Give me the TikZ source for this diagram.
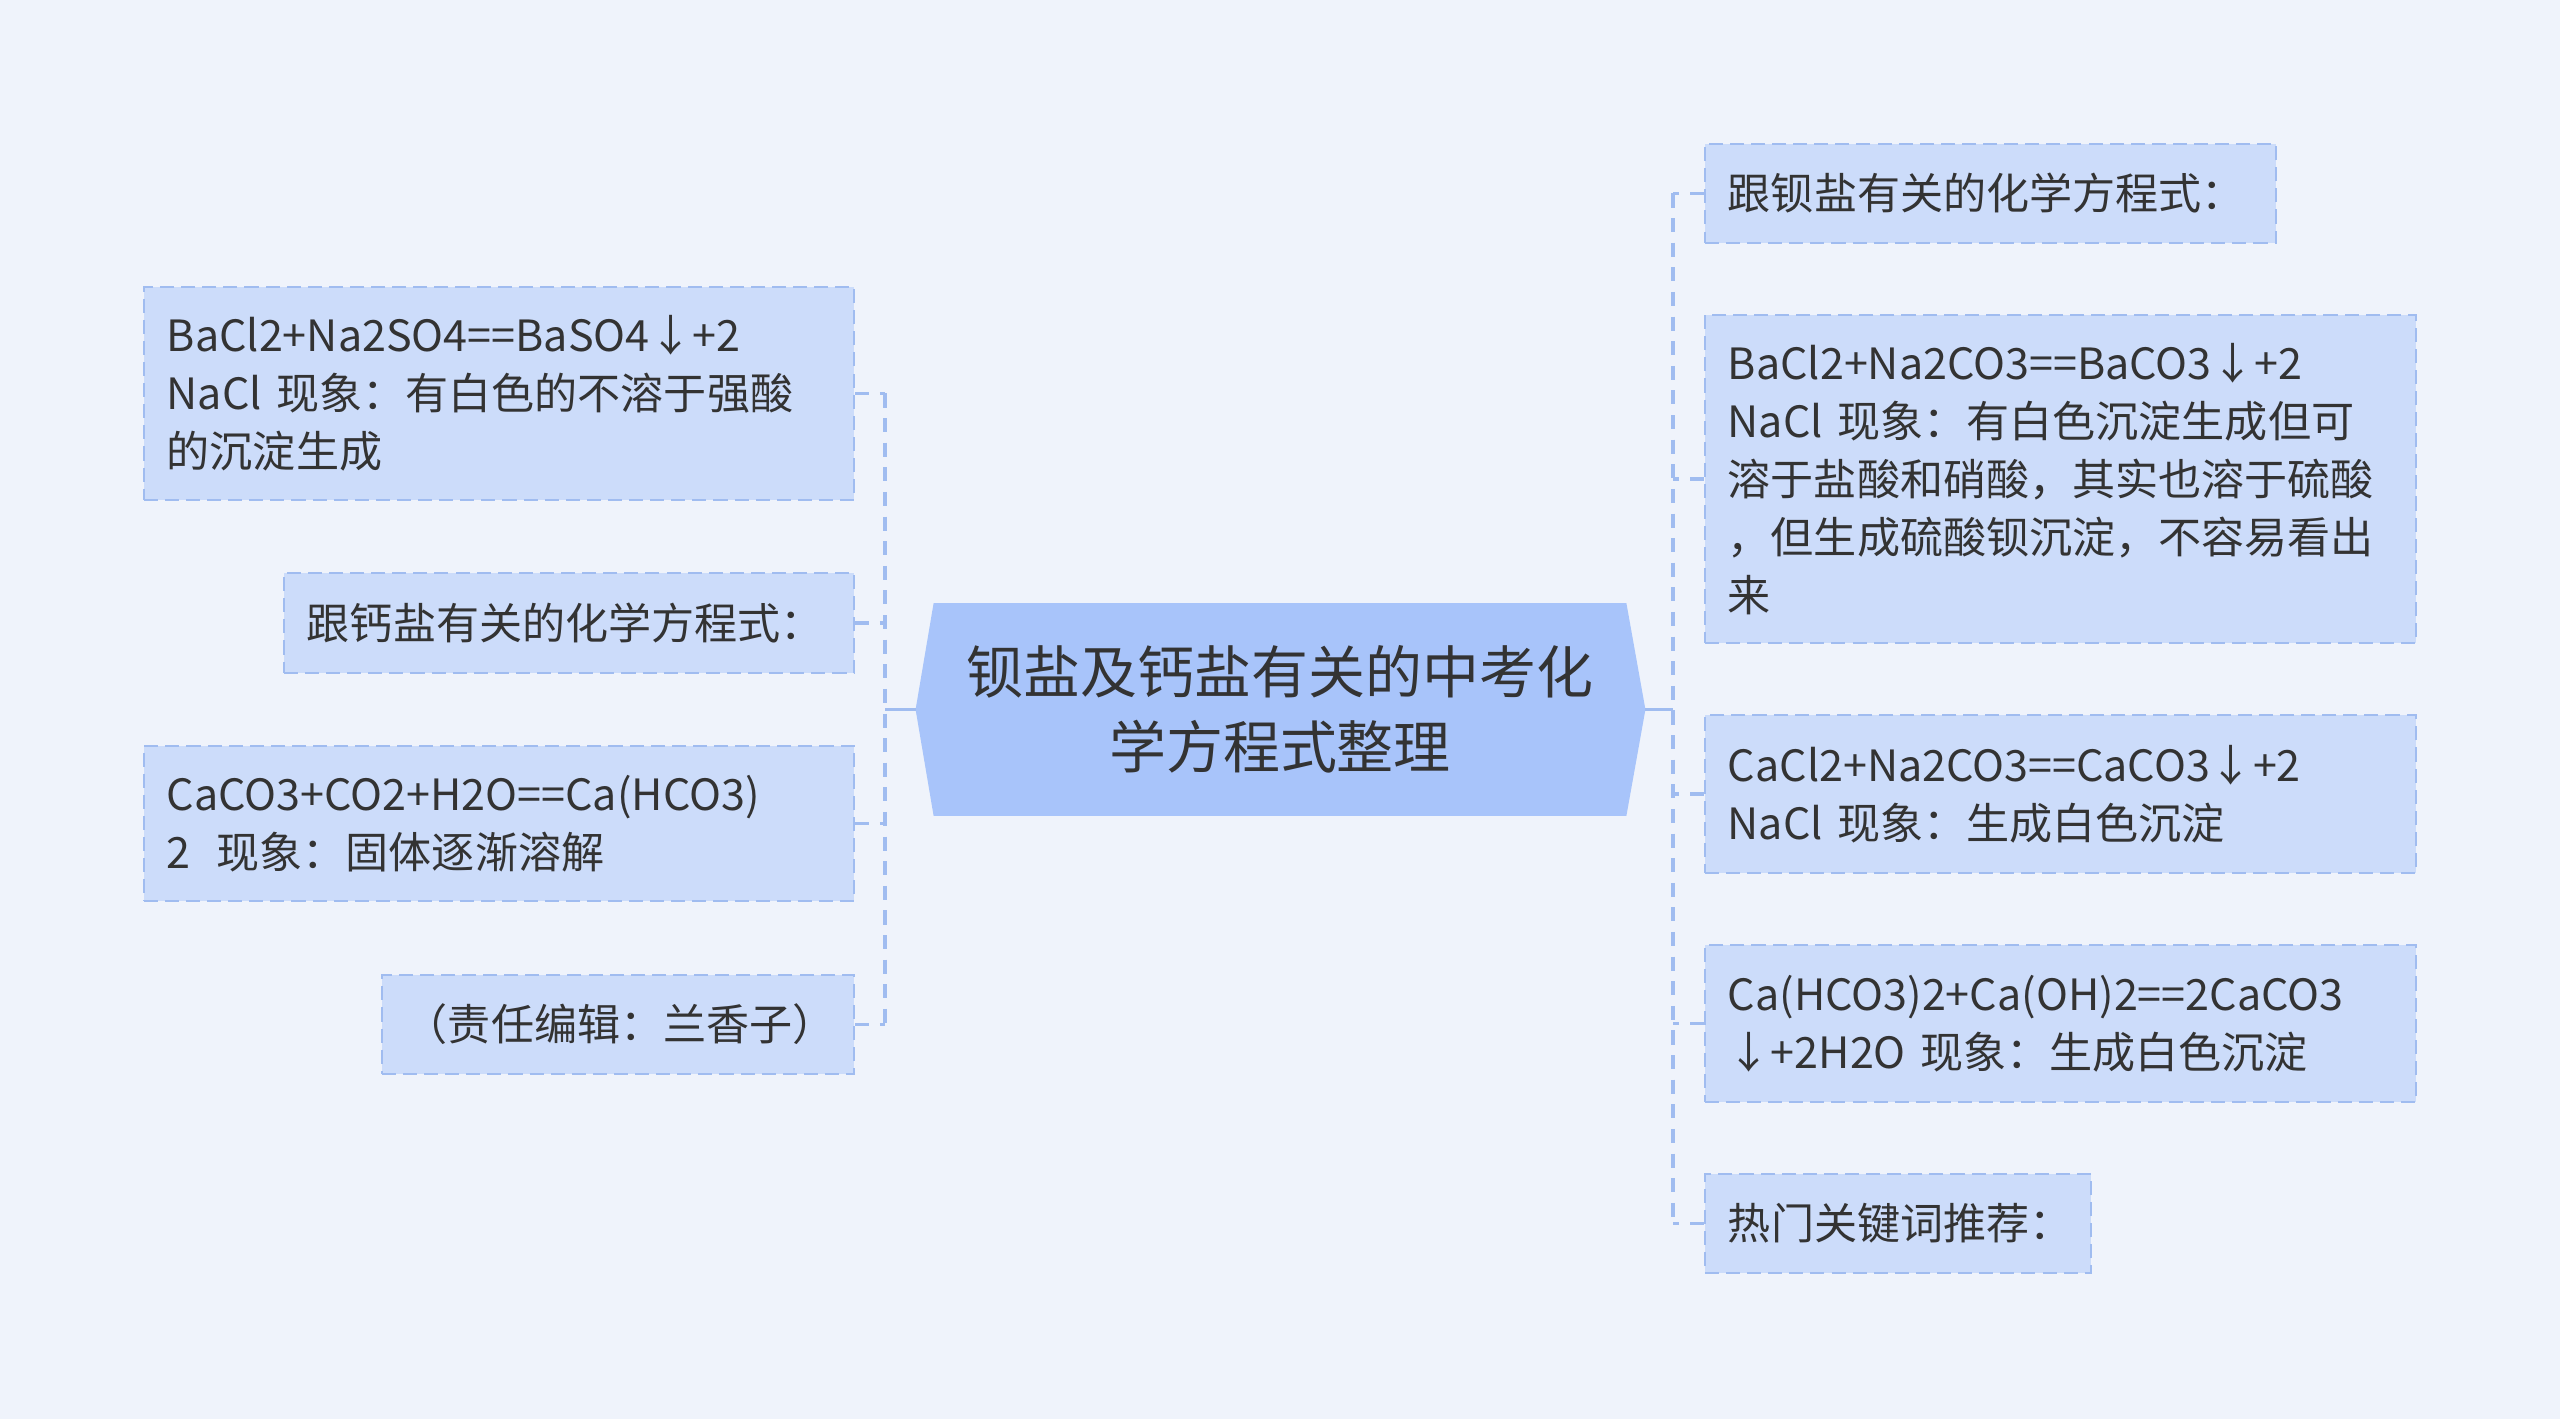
\documentclass[tikz,border=0pt]{standalone}
\usepackage{fontspec}
\setmainfont{Noto Sans CJK SC}
\usetikzlibrary{backgrounds,calc}
\definecolor{bgcol}{RGB}{239,243,251}
\definecolor{boxcol}{RGB}{204,220,250}
\definecolor{edgecol}{RGB}{160,188,240}
\definecolor{rootcol}{RGB}{168,196,250}
\definecolor{txtcol}{RGB}{51,51,51}

\begin{document}
\begin{tikzpicture}[x=0.01cm, y=-0.01cm,
    leaf/.style={draw=edgecol, line width=0.6pt, dash pattern=on 4pt off 2pt, fill=boxcol, inner xsep=0.23cm, inner ysep=0pt, align=left, text=txtcol, font=\fontsize{12.25pt}{16.5pt}\selectfont},
    root/.style={inner sep=0pt, minimum width=6.91cm, minimum height=2.11cm, align=center, text=txtcol, font=\fontsize{16.2pt}{21.3pt}\selectfont},
    link/.style={draw=edgecol, line width=0.9pt, dash pattern=on 4pt off 3pt},
    stem/.style={draw=edgecol, line width=0.9pt}
]
\useasboundingbox (0,0) rectangle (2560,1419);

\node[root] (root) at (1280,709.5) {钡盐及钙盐有关的中考化\\学方程式整理};

\node[leaf, text width=6.64cm, minimum height=2.13cm] (l1) at (499,393.5) {BaCl2+Na2SO4==BaSO4↓+2\\NaCl 现象：有白色的不溶于强酸\\的沉淀生成};
\node[leaf, text width=5.24cm, minimum height=1.00cm] (l2) at (569,623) {跟钙盐有关的化学方程式：};
\node[leaf, text width=6.64cm, minimum height=1.55cm] (l3) at (499,823.5) {CaCO3+CO2+H2O==Ca(HCO3)\\2\hspace{0.6em}现象：固体逐渐溶解};
\node[leaf, text width=4.26cm, minimum height=0.99cm] (l4) at (618,1024.5) {（责任编辑：兰香子）};

\node[leaf, text width=5.25cm, minimum height=0.99cm] (r1) at (1990.5,193.5) {跟钡盐有关的化学方程式：};
\node[leaf, text width=6.65cm, minimum height=3.28cm] (r2) at (2060.5,479) {BaCl2+Na2CO3==BaCO3↓+2\\NaCl 现象：有白色沉淀生成但可\\溶于盐酸和硝酸，其实也溶于硫酸\\，但生成硫酸钡沉淀，不容易看出\\来};
\node[leaf, text width=6.65cm, minimum height=1.58cm] (r3) at (2060.5,794) {CaCl2+Na2CO3==CaCO3↓+2\\NaCl 现象：生成白色沉淀};
\node[leaf, text width=6.65cm, minimum height=1.57cm] (r4) at (2060.5,1023.5) {Ca(HCO3)2+Ca(OH)2==2CaCO3\\↓+2H2O 现象：生成白色沉淀};
\node[leaf, text width=3.40cm, minimum height=0.99cm] (r5) at (1898,1223.5) {热门关键词推荐：};

\coordinate (rootw) at ($(root.west)+(-18,0)$);
\coordinate (roote) at ($(root.east)+(19,0)$);
\coordinate (ljoin) at (885,709.5);
\coordinate (rjoin) at (1673,709.5);

\begin{scope}[on background layer]
\fill[bgcol] (0,0) rectangle (2560,1419);
\fill[rootcol] (root.north west) -- (root.north east) -- (roote) -- (root.south east) -- (root.south west) -- (rootw) -- cycle;
\end{scope}

\draw[stem] (rootw) -- (ljoin);
\draw[stem] (roote) -- (rjoin);
\draw[link] (l1.east -| ljoin) -- (l4.east -| ljoin);
\draw[link] (r1.west -| rjoin) -- (r5.west -| rjoin);
\foreach \n in {l1,l2,l3,l4}
  \draw[link] (\n.east) -- (\n.east -| ljoin);
\foreach \n in {r1,r2,r3,r4,r5}
  \draw[link] (\n.west) -- (\n.west -| rjoin);
\end{tikzpicture}
\end{document}
